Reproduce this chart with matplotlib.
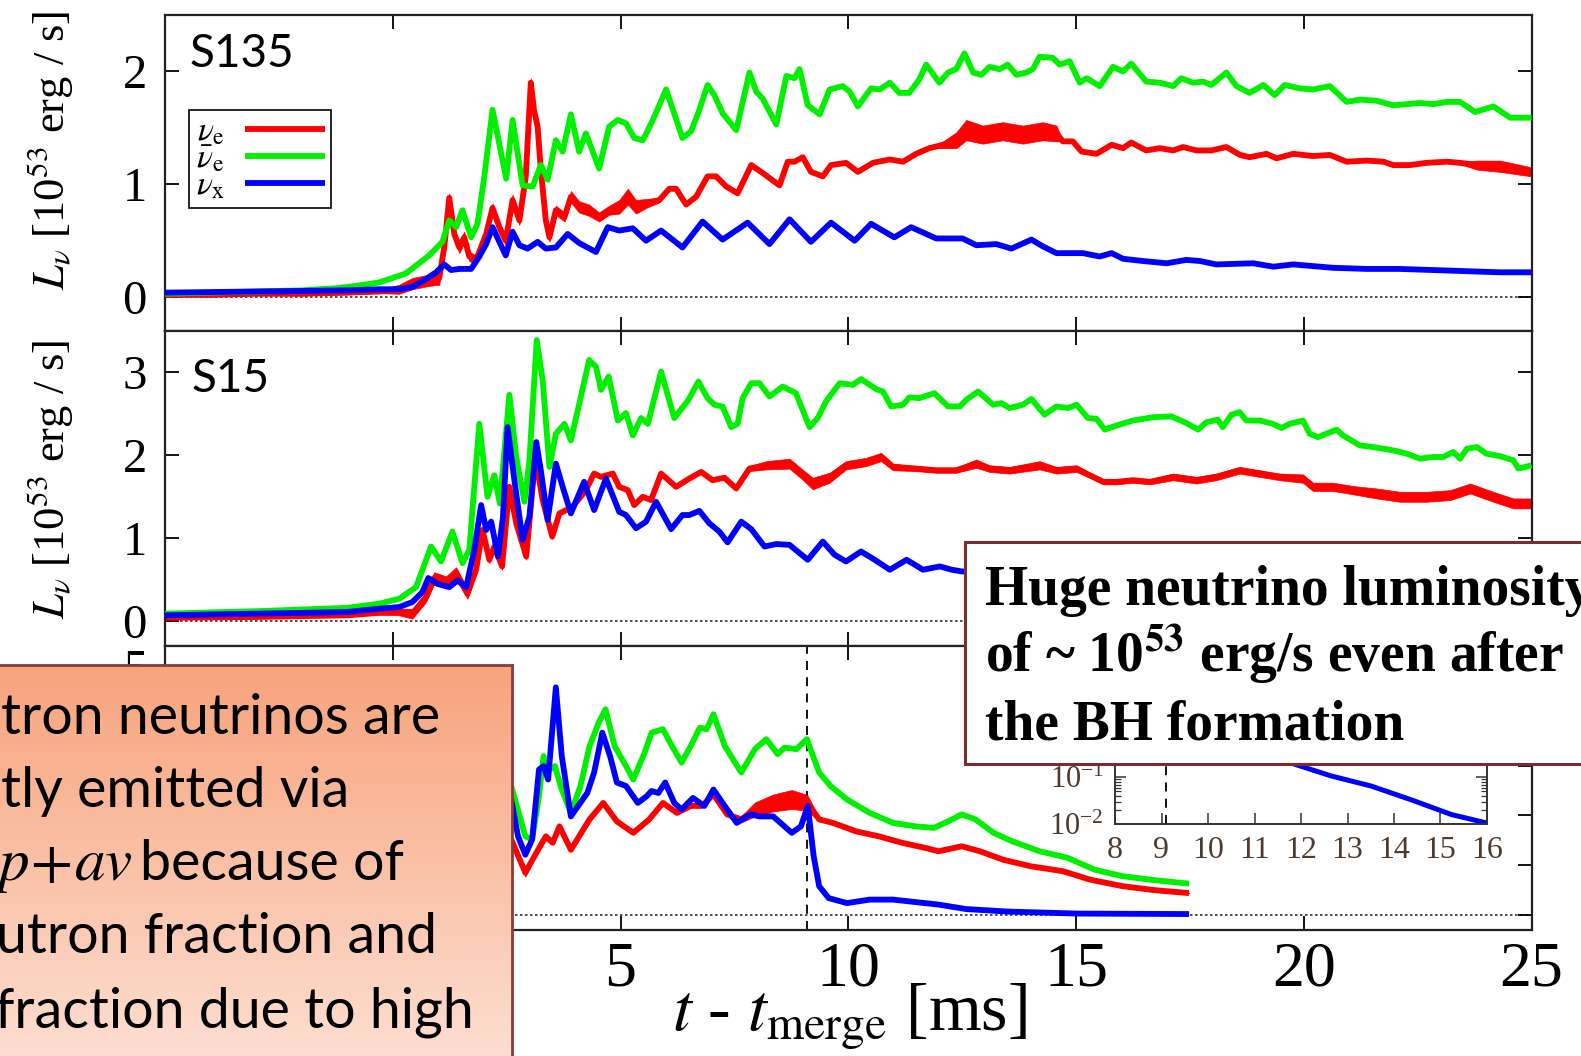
import numpy as np
import matplotlib
matplotlib.use("Agg")
import matplotlib.pyplot as plt
from matplotlib.patches import Rectangle

plt.rcParams['font.family'] = ['Liberation Serif', 'DejaVu Serif']
plt.rcParams['mathtext.fontset'] = 'stix'

# ---------------- S135 (top panel) ----------------
s135_t_nue = [-5, -4, -3, -2, -1, -0.3, 0.14, 0.43, 0.80, 1.02,
              1.13, 1.24, 1.35, 1.46, 1.57, 1.68, 1.83, 2.05, 2.19, 2.34,
              2.48, 2.63, 2.78, 2.92, 3.03, 3.10, 3.18, 3.25, 3.36, 3.44,
              3.58, 3.77, 3.91, 4.09, 4.31, 4.53, 4.75, 4.97, 5.16, 5.34,
              5.56, 5.85, 6.07, 6.22, 6.44, 6.66, 6.91, 7.10, 7.32, 7.57,
              7.87, 8.12, 8.49, 8.67, 8.82, 9.00, 9.18, 9.44, 9.62, 9.95,
              10.21, 10.54, 10.91, 11.20, 11.49, 11.78, 12.08, 12.37, 12.59, 12.95,
              13.39, 13.83, 14.27, 14.57, 14.71, 14.93, 15.12, 15.45, 15.78, 16.03,
              16.21, 16.54, 16.84, 17.13, 17.35, 17.64, 17.97, 18.30, 18.60, 18.81,
              19.18, 19.40, 19.77, 20.20, 20.57, 20.94, 21.38, 21.75, 21.96, 22.33,
              22.69, 23.14, 23.43, 23.80, 24.31, 25.0]
s135_nue = [0.02, 0.02, 0.03, 0.03, 0.04, 0.05, 0.07, 0.12, 0.15, 0.17,
            0.44, 0.88, 0.56, 0.44, 0.53, 0.36, 0.33, 0.56, 0.79, 0.62,
            0.50, 0.86, 0.68, 1.07, 1.90, 1.66, 1.51, 1.13, 0.68, 0.53,
            0.77, 0.71, 0.89, 0.80, 0.77, 0.71, 0.77, 0.80, 0.89, 0.80,
            0.83, 0.86, 0.96, 0.96, 0.82, 0.89, 1.07, 1.07, 0.98, 0.92,
            1.17, 1.10, 0.99, 1.20, 1.20, 1.24, 1.11, 1.07, 1.17, 1.19,
            1.11, 1.19, 1.22, 1.20, 1.27, 1.32, 1.35, 1.39, 1.48, 1.44,
            1.47, 1.44, 1.47, 1.45, 1.38, 1.38, 1.29, 1.27, 1.35, 1.32,
            1.37, 1.30, 1.32, 1.30, 1.33, 1.30, 1.30, 1.33, 1.26, 1.24,
            1.27, 1.23, 1.27, 1.25, 1.26, 1.20, 1.21, 1.20, 1.17, 1.17,
            1.19, 1.20, 1.19, 1.17, 1.16, 1.11]
# half-width of the fast jitter on the nu_e curve
s135_nue_spread = [0.01, 0.015, 0.01, 0.015, 0.015, 0.015, 0.04, 0.05, 0.05, 0.06,
                   0.04, 0.04, 0.05, 0.05, 0.05, 0.04, 0.04, 0.04, 0.04, 0.04,
                   0.04, 0.05, 0.04, 0.04, 0.04, 0.04, 0.04, 0.04, 0.04, 0.04,
                   0.04, 0.04, 0.05, 0.05, 0.05, 0.04, 0.04, 0.06, 0.07, 0.06,
                   0.04, 0.02, 0.01, 0.0, 0.0, 0.0, 0.0, 0.0, 0.0, 0.0,
                   0.0, 0.0, 0.0, 0.0, 0.0, 0.0, 0.0, 0.0, 0.0, 0.0,
                   0.0, 0.0, 0.0, 0.0, 0.0, 0.0, 0.03, 0.07, 0.09, 0.08,
                   0.08, 0.08, 0.08, 0.07, 0.0, 0.0, 0.0, 0.0, 0.0, 0.0,
                   0.0, 0.0, 0.0, 0.0, 0.0, 0.0, 0.0, 0.0, 0.0, 0.0,
                   0.0, 0.0, 0.0, 0.0, 0.0, 0.0, 0.0, 0.0, 0.0, 0.0,
                   0.0, 0.0, 0.01, 0.04, 0.05, 0.04]

s135_t_anue = [-5, -4, -3, -2, -1.2, -0.8, -0.3, 0.29, 0.80, 1.09,
               1.24, 1.39, 1.53, 1.72, 1.86, 2.01, 2.19, 2.49, 2.63, 2.85,
               3.07, 3.25, 3.40, 3.58, 3.73, 3.91, 4.09, 4.24, 4.53, 4.75,
               4.94, 5.12, 5.30, 5.49, 5.71, 6.00, 6.36, 6.55, 6.73, 6.91,
               7.06, 7.24, 7.54, 7.83, 7.98, 8.12, 8.42, 8.64, 8.82, 8.93,
               9.11, 9.37, 9.59, 9.88, 10.03, 10.21, 10.50, 10.69, 10.91, 11.12,
               11.34, 11.56, 11.71, 12.00, 12.19, 12.37, 12.55, 12.74, 12.92, 13.10,
               13.32, 13.50, 13.69, 13.91, 14.05, 14.20, 14.49, 14.64, 14.86, 15.08,
               15.23, 15.52, 15.81, 16.03, 16.21, 16.54, 16.84, 17.13, 17.31, 17.57,
               17.79, 17.97, 18.30, 18.52, 18.81, 19.11, 19.36, 19.58, 19.91, 20.20,
               20.57, 20.94, 21.23, 21.60, 21.96, 22.26, 22.55, 22.84, 23.14, 23.43,
               23.76, 24.16, 24.53, 25.0]
s135_anue = [0.03, 0.04, 0.05, 0.06, 0.08, 0.10, 0.13, 0.21, 0.37, 0.49,
             0.68, 0.62, 0.77, 0.53, 0.65, 1.07, 1.66, 1.05, 1.57, 0.99,
             0.98, 1.17, 1.04, 1.39, 1.29, 1.62, 1.29, 1.45, 1.14, 1.51,
             1.57, 1.54, 1.41, 1.39, 1.57, 1.84, 1.41, 1.47, 1.66, 1.88,
             1.79, 1.63, 1.48, 1.99, 1.82, 1.76, 1.53, 1.96, 1.94, 2.02,
             1.70, 1.62, 1.84, 1.87, 1.82, 1.69, 1.85, 1.84, 1.90, 1.81,
             1.81, 1.93, 2.06, 1.90, 1.99, 2.02, 2.16, 1.99, 1.97, 2.04,
             2.02, 2.06, 1.97, 1.99, 2.02, 2.13, 2.12, 2.06, 2.09, 1.90,
             1.94, 1.87, 2.04, 2.00, 2.07, 1.91, 1.90, 1.87, 1.94, 1.90,
             1.91, 1.88, 1.99, 1.87, 1.81, 1.88, 1.79, 1.88, 1.85, 1.84,
             1.87, 1.73, 1.75, 1.74, 1.70, 1.71, 1.72, 1.71, 1.73, 1.73,
             1.64, 1.69, 1.59, 1.59]

s135_t_nux = [-5, -3, -1, -0.3, 0.14, 0.43, 0.73, 0.95, 1.13, 1.28,
              1.46, 1.72, 1.90, 2.05, 2.19, 2.34, 2.48, 2.63, 2.78, 2.96,
              3.18, 3.36, 3.58, 3.84, 4.09, 4.46, 4.72, 4.97, 5.27, 5.56,
              5.89, 6.36, 6.80, 7.24, 7.79, 8.27, 8.71, 9.18, 9.62, 10.14,
              10.50, 11.01, 11.38, 11.93, 12.51, 12.81, 13.25, 13.58, 14.02, 14.27,
              14.57, 15.15, 15.52, 15.78, 16.03, 16.47, 16.99, 17.42, 17.72, 18.08,
              18.89, 19.33, 19.77, 20.64, 21.38, 22.11, 22.84, 23.58, 24.31, 25.0]
s135_nux = [0.04, 0.05, 0.06, 0.07, 0.07, 0.09, 0.16, 0.22, 0.29, 0.24,
            0.25, 0.25, 0.36, 0.47, 0.62, 0.49, 0.37, 0.58, 0.46, 0.43,
            0.49, 0.43, 0.44, 0.56, 0.48, 0.40, 0.62, 0.59, 0.61, 0.50,
            0.59, 0.44, 0.67, 0.51, 0.66, 0.47, 0.69, 0.49, 0.66, 0.50,
            0.65, 0.53, 0.62, 0.52, 0.52, 0.46, 0.47, 0.43, 0.51, 0.45,
            0.39, 0.39, 0.36, 0.39, 0.34, 0.32, 0.30, 0.33, 0.32, 0.29,
            0.30, 0.27, 0.29, 0.26, 0.25, 0.25, 0.24, 0.23, 0.22, 0.22]

# ---------------- S15 (middle panel) ----------------
s15_t_nue = [-5, -3, -1, -0.3, 0.14, 0.43, 0.73, 0.91, 1.17, 1.39,
             1.64, 1.83, 1.97, 2.12, 2.23, 2.40, 2.56, 2.71, 2.93, 3.13,
             3.29, 3.50, 3.66, 3.95, 4.24, 4.42, 4.57, 4.83, 4.97, 5.16,
             5.30, 5.49, 5.67, 5.89, 6.22, 6.51, 6.77, 7.02, 7.28, 7.54,
             7.83, 8.20, 8.71, 8.97, 9.22, 9.59, 9.95, 10.39, 10.72, 10.98,
             11.49, 11.93, 12.37, 12.81, 13.10, 13.54, 14.20, 14.57, 15.01, 15.30,
             15.60, 15.89, 16.25, 16.62, 17.13, 17.64, 18.08, 18.59, 19.03, 19.47,
             19.98, 20.20, 20.64, 21.08, 21.60, 22.11, 22.69, 23.21, 23.65, 24.16,
             24.60, 25.0]
s15_nue = [0.04, 0.05, 0.07, 0.10, 0.11, 0.09, 0.29, 0.52, 0.47, 0.58,
           0.33, 0.62, 1.10, 0.74, 0.90, 0.66, 1.62, 1.18, 0.78, 1.98,
           1.46, 1.02, 1.30, 1.38, 1.58, 1.78, 1.74, 1.78, 1.62, 1.58,
           1.40, 1.50, 1.46, 1.78, 1.62, 1.72, 1.80, 1.70, 1.73, 1.60,
           1.84, 1.88, 1.90, 1.78, 1.66, 1.73, 1.88, 1.92, 1.98, 1.86,
           1.84, 1.82, 1.82, 1.90, 1.84, 1.82, 1.88, 1.82, 1.84, 1.76,
           1.68, 1.68, 1.70, 1.68, 1.74, 1.70, 1.74, 1.82, 1.78, 1.74,
           1.72, 1.62, 1.62, 1.58, 1.54, 1.50, 1.50, 1.52, 1.60, 1.50,
           1.42, 1.42]
s15_nue_spread = [0.015, 0.015, 0.015, 0.02, 0.04, 0.06, 0.06, 0.07, 0.07, 0.07,
                  0.06, 0.05, 0.04, 0.04, 0.04, 0.04, 0.04, 0.04, 0.04, 0.03,
                  0.03, 0.03, 0.02, 0.02, 0.01, 0.01, 0.01, 0.01, 0.01, 0.01,
                  0.01, 0.01, 0.01, 0.01, 0.01, 0.01, 0.01, 0.01, 0.01, 0.02,
                  0.03, 0.05, 0.06, 0.06, 0.07, 0.06, 0.05, 0.05, 0.05, 0.04,
                  0.03, 0.03, 0.03, 0.05, 0.04, 0.04, 0.05, 0.04, 0.04, 0.03,
                  0.03, 0.03, 0.03, 0.03, 0.04, 0.04, 0.04, 0.04, 0.04, 0.04,
                  0.05, 0.05, 0.05, 0.05, 0.06, 0.06, 0.06, 0.06, 0.06, 0.06,
                  0.06, 0.06]

s15_t_anue = [-5, -3, -1, -0.3, 0.14, 0.51, 0.84, 1.06, 1.31, 1.53,
              1.68, 1.90, 2.08, 2.23, 2.35, 2.56, 2.71, 2.89, 3.00, 3.16,
              3.29, 3.44, 3.58, 3.77, 3.91, 4.13, 4.31, 4.46, 4.57, 4.74,
              4.94, 5.12, 5.27, 5.45, 5.60, 5.89, 6.18, 6.48, 6.71, 6.91,
              7.06, 7.24, 7.43, 7.57, 7.68, 7.87, 8.05, 8.27, 8.56, 8.85,
              9.15, 9.33, 9.51, 9.81, 10.10, 10.28, 10.61, 10.76, 10.94, 11.20,
              11.34, 11.56, 11.89, 12.19, 12.45, 12.59, 12.85, 13.18, 13.36, 13.54,
              13.83, 14.02, 14.31, 14.57, 14.82, 15.01, 15.26, 15.45, 15.63, 15.89,
              16.25, 16.69, 17.09, 17.42, 17.68, 17.86, 18.11, 18.22, 18.41, 18.59,
              18.74, 19.03, 19.32, 19.51, 19.69, 19.98, 20.13, 20.31, 20.49, 20.72,
              20.86, 21.23, 21.52, 21.96, 22.26, 22.55, 22.84, 23.06, 23.28, 23.43,
              23.58, 23.80, 24.01, 24.31, 24.60, 24.71, 25.0]
s15_anue = [0.09, 0.12, 0.16, 0.21, 0.27, 0.41, 0.90, 0.72, 1.08, 0.70,
            0.86, 2.38, 1.50, 1.76, 1.42, 2.73, 1.98, 1.44, 1.94, 3.39,
            2.91, 1.86, 2.26, 2.38, 2.18, 2.71, 3.15, 3.07, 2.79, 2.95,
            2.42, 2.51, 2.24, 2.45, 2.38, 3.01, 2.45, 2.66, 2.89, 2.69,
            2.61, 2.59, 2.34, 2.38, 2.69, 2.87, 2.87, 2.71, 2.83, 2.75,
            2.34, 2.45, 2.65, 2.87, 2.85, 2.92, 2.80, 2.77, 2.59, 2.61,
            2.70, 2.69, 2.75, 2.59, 2.59, 2.67, 2.77, 2.61, 2.63, 2.57,
            2.61, 2.68, 2.49, 2.59, 2.57, 2.61, 2.45, 2.44, 2.31, 2.36,
            2.42, 2.46, 2.47, 2.39, 2.31, 2.40, 2.43, 2.34, 2.49, 2.52,
            2.42, 2.42, 2.38, 2.33, 2.38, 2.42, 2.26, 2.22, 2.26, 2.31,
            2.24, 2.12, 2.10, 2.06, 2.02, 1.96, 1.98, 1.98, 2.04, 1.96,
            2.08, 2.10, 2.02, 1.99, 1.94, 1.84, 1.88]

s15_t_nux = [-5, -3, -1, -0.3, 0.14, 0.43, 0.65, 0.78, 0.98, 1.24,
             1.42, 1.61, 1.79, 1.94, 2.05, 2.16, 2.31, 2.42, 2.52, 2.67,
             2.85, 3.00, 3.15, 3.25, 3.40, 3.58, 3.73, 3.91, 4.20, 4.42,
             4.68, 4.97, 5.12, 5.34, 5.56, 5.78, 6.11, 6.36, 6.51, 6.73,
             6.95, 7.17, 7.35, 7.65, 7.87, 8.16, 8.42, 8.71, 9.11, 9.44,
             9.70, 9.95, 10.28, 10.58, 10.91, 11.28, 11.64, 12.01, 12.27, 12.49,
             13.0]
s15_nux = [0.07, 0.09, 0.11, 0.15, 0.17, 0.23, 0.35, 0.52, 0.45, 0.41,
           0.49, 0.41, 0.86, 1.40, 1.10, 1.20, 0.78, 1.26, 2.34, 1.70,
           0.98, 1.26, 2.16, 1.82, 1.22, 1.90, 1.62, 1.30, 1.68, 1.34,
           1.72, 1.32, 1.28, 1.12, 1.20, 1.44, 1.11, 1.28, 1.28, 1.33,
           1.18, 1.08, 0.95, 1.20, 1.11, 0.90, 0.93, 0.92, 0.74, 0.96,
           0.80, 0.72, 0.84, 0.74, 0.62, 0.74, 0.62, 0.66, 0.62, 0.60,
           0.58]

# ---------------- bottom panel (BH formation) ----------------
bh_t_nue = [2.60, 2.91, 3.11, 3.36, 3.51, 3.66, 3.91, 4.32, 4.62, 4.92,
            5.28, 5.63, 5.93, 6.24, 6.54, 6.79, 7.04, 7.34, 7.65, 7.95,
            8.35, 8.76, 9.10, 9.36, 9.66, 10.17, 10.67, 11.18, 11.68, 11.98,
            12.49, 12.89, 13.40, 14.00, 14.71, 15.31, 16.02, 16.72, 17.48]
bh_nue = [1.52, 0.85, 1.18, 1.58, 1.45, 1.78, 1.31, 1.92, 2.25, 1.88,
          1.65, 1.92, 2.25, 2.05, 2.19, 2.19, 2.42, 2.02, 1.92, 2.12,
          2.25, 2.32, 2.25, 1.92, 1.85, 1.68, 1.58, 1.45, 1.35, 1.28,
          1.38, 1.28, 1.11, 0.98, 0.88, 0.71, 0.58, 0.50, 0.44]
bh_nue_spread = [0.06, 0.08, 0.04, 0.03, 0.03, 0.03, 0.03, 0.02, 0.02, 0.02,
                 0.02, 0.02, 0.02, 0.02, 0.02, 0.02, 0.02, 0.03, 0.06, 0.14,
                 0.17, 0.19, 0.16, 0.04, 0.01, 0.0, 0.0, 0.0, 0.0, 0.0,
                 0.0, 0.0, 0.0, 0.0, 0.0, 0.0, 0.0, 0.0, 0.0]

bh_t_anue = [2.60, 2.91, 3.06, 3.21, 3.31, 3.41, 3.56, 3.71, 3.91, 4.12,
             4.32, 4.52, 4.67, 4.87, 5.12, 5.28, 5.53, 5.68, 5.93, 6.13,
             6.34, 6.54, 6.74, 6.89, 7.04, 7.29, 7.65, 7.95, 8.20, 8.45,
             8.60, 8.86, 9.09, 9.36, 9.61, 9.97, 10.47, 10.98, 11.48, 11.88,
             12.19, 12.49, 12.79, 13.19, 13.60, 14.20, 14.81, 15.41, 16.02, 16.72,
             17.48]
bh_anue = [2.59, 1.58, 1.52, 2.39, 3.19, 2.89, 2.99, 2.52, 2.05, 2.59,
           3.39, 3.86, 4.13, 3.39, 2.99, 2.72, 3.26, 3.66, 3.73, 3.39,
           3.06, 3.39, 3.76, 3.73, 4.03, 3.39, 2.86, 3.33, 3.53, 3.23,
           3.36, 3.33, 3.53, 2.86, 2.59, 2.32, 2.05, 1.85, 1.78, 1.75,
           1.88, 2.02, 1.92, 1.65, 1.48, 1.28, 1.15, 0.91, 0.78, 0.70,
           0.63]

bh_t_nux = [2.60, 2.75, 2.91, 3.06, 3.21, 3.31, 3.41, 3.58, 3.71, 3.91,
            4.07, 4.27, 4.42, 4.60, 4.77, 4.92, 5.12, 5.38, 5.58, 5.68,
            5.83, 5.98, 6.18, 6.34, 6.59, 6.84, 7.04, 7.24, 7.55, 7.85,
            8.05, 8.35, 8.76, 8.96, 9.11, 9.24, 9.36, 9.57, 9.97, 10.47,
            10.98, 11.58, 11.98, 12.59, 13.50, 15.01, 17.48]
bh_nux = [2.32, 1.58, 1.21, 1.52, 2.92, 2.99, 2.72, 4.57, 3.19, 1.98,
          2.19, 2.45, 2.86, 3.66, 3.19, 2.66, 2.59, 2.25, 2.39, 2.49,
          2.45, 2.66, 2.25, 2.12, 2.35, 2.19, 2.52, 2.25, 1.85, 2.02,
          1.98, 1.98, 1.65, 1.78, 2.19, 1.18, 0.58, 0.34, 0.24, 0.31,
          0.31, 0.25, 0.21, 0.12, 0.07, 0.03, 0.02]

# log-scale zoom on nu_x after collapse
inset_t = [8.0, 8.35, 8.76, 8.96, 9.11, 9.24, 9.36, 9.57, 9.97, 10.47,
           10.98, 11.58, 11.87, 12.65, 13.51, 14.37, 15.23, 15.96]
inset_nux = [1.98, 1.98, 1.65, 1.78, 2.19, 1.18, 0.58, 0.34, 0.24, 0.31,
             0.31, 0.25, 0.19, 0.107, 0.065, 0.033, 0.016, 0.0107]

t_bh = 9.1
x_ticks = [-5, 0, 5, 10, 15, 20, 25]
legend_labels = [r'$\nu_{\rm e}$', r'$\bar{\nu}_{\rm e}$', r'$\nu_{\rm x}$']

RED, GREEN, BLUE = '#ff0000', '#00f000', '#0000ff'
LW = 4.2

W, H = 1581, 1056
fig = plt.figure(figsize=(W / 100, H / 100), dpi=100)


def fx(px):
    return px / W


def fy(py):
    return 1 - py / H


L, R = 165, 1531.6
ax_top = fig.add_axes([fx(L), fy(331), (R - L) / W, (331 - 15) / H])
ax_mid = fig.add_axes([fx(L), fy(646), (R - L) / W, (646 - 331) / H])
ax_bot = fig.add_axes([fx(L), fy(930), (R - L) / W, (930 - 646) / H])


def style(ax, ylim, yticks, show_x):
    ax.set_xlim(-5, 25)
    ax.set_ylim(*ylim)
    ax.set_xticks(x_ticks)
    ax.set_yticks(yticks)
    ax.tick_params(direction='in', length=10, width=1.3, top=True, right=True,
                   labelsize=35, pad=13, colors='k')
    ax.tick_params(axis='x', labelbottom=show_x, labelsize=46, pad=8)
    for s in ax.spines.values():
        s.set_linewidth(1.6)
        s.set_color('#222222')
    ax.axhline(0, color='#333333', lw=1.2, ls=(0, (1.5, 1.5)), zorder=1)


def curves(ax, t_e, e, e_spread, t_a, a, t_x, x):
    t_e = np.asarray(t_e)
    e = np.asarray(e)
    sp = np.asarray(e_spread)
    kw = dict(lw=LW, solid_capstyle='butt', solid_joinstyle='round')
    ax.fill_between(t_e, e - sp, e + sp, color=RED, lw=0.5, zorder=2)
    l1, = ax.plot(t_e, e, color=RED, zorder=2, **kw)
    l2, = ax.plot(t_a, a, color=GREEN, zorder=3, **kw)
    l3, = ax.plot(t_x, x, color=BLUE, zorder=4, **kw)
    return l1, l2, l3


style(ax_top, (-0.3, 2.5), [0, 1, 2], False)
style(ax_mid, (-0.3, 3.5), [0, 1, 2, 3], False)
style(ax_bot, (-0.3, 5.4), [0, 1, 2, 3, 4, 5], True)

handles = curves(ax_top, s135_t_nue, s135_nue, s135_nue_spread,
                 s135_t_anue, s135_anue, s135_t_nux, s135_nux)
curves(ax_mid, s15_t_nue, s15_nue, s15_nue_spread,
       s15_t_anue, s15_anue, s15_t_nux, s15_nux)
curves(ax_bot, bh_t_nue, bh_nue, bh_nue_spread,
       bh_t_anue, bh_anue, bh_t_nux, bh_nux)
ax_bot.axvline(t_bh, color='k', lw=1.3, ls=(0, (5, 4)), zorder=1)

leg = ax_top.legend(handles, legend_labels, loc='upper left',
                    bbox_to_anchor=(0.0176, 0.699), borderaxespad=0,
                    fontsize=24, markerfirst=False, handlelength=2.4,
                    handletextpad=0.6, labelspacing=-0.1, borderpad=0.2,
                    fancybox=False, framealpha=1, edgecolor='k')
leg.get_frame().set_linewidth(1.2)

ax_top.text(0.0183, 0.835, 'S135', transform=ax_top.transAxes, fontsize=33,
            family='Lato', va='baseline')
ax_mid.text(0.0195, 0.807, 'S15', transform=ax_mid.transAxes, fontsize=33,
            family='Lato', va='baseline')

ylab = r'$L_\nu$ [10$^{53}$ erg / s]'
ax_top.set_ylabel(ylab, fontsize=32)
ax_top.yaxis.set_label_coords(-0.065, 0.573)
ax_mid.set_ylabel(ylab, fontsize=32)
ax_mid.yaxis.set_label_coords(-0.065, 0.530)
ax_bot.set_xlabel(r'$t$ - $t_{\rm merge}$ [ms]', fontsize=49)
ax_bot.xaxis.set_label_coords(0.501, -0.18)

# inset: nu_x on a log scale
ins = fig.add_axes([fx(1115), fy(824), (1487 - 1115) / W, 140 / H], zorder=2)
ins.set_yscale('log')
ins.set_xlim(8, 16)
ins.set_ylim(0.01, 10)
ins.plot(inset_t, inset_nux, color=BLUE, lw=3.6)
ins.axvline(t_bh, color='k', lw=1.3, ls=(0, (5, 4)))
ins.set_xticks(range(8, 17))
ins.tick_params(which='both', direction='in', top=True, right=True, color='#333333')
ins.tick_params(which='major', length=8, width=1.1)
ins.tick_params(which='minor', length=4, width=0.9)
ins.tick_params(axis='x', labelsize=23, labelcolor='#4d3b2f', pad=9)
ins.tick_params(axis='y', labelsize=22, labelcolor='#4d3b2f', pad=8)
for s in ins.spines.values():
    s.set_linewidth(1.4)
    s.set_color('#333333')

# white call-out on the right
fig.add_artist(Rectangle((fx(965), fy(764)), (1620 - 965) / W, (764 - 542) / H,
                         transform=fig.transFigure, facecolor='white',
                         edgecolor='#7b2c2c', lw=2.2, zorder=5))
bold = dict(fontsize=40, fontweight='bold', va='baseline', zorder=6)
fig.text(fx(985), fy(605), 'Huge neutrino luminosity', **bold)
fig.text(fx(985), fy(672), r'of ~ 10$^{\mathbf{53}}$ erg/s even after', **bold)
fig.text(fx(985), fy(739), 'the BH formation', **bold)

# salmon call-out on the lower left, shaded top to bottom
bx = fig.add_axes([0, 0, fx(512), (1056 - 665) / H], zorder=10)
top_c = np.array([247, 163, 124]) / 255
bot_c = np.array([253, 222, 208]) / 255
frac = np.linspace(0, 1, 256)[:, None, None]
bx.imshow(top_c * (1 - frac) + bot_c * frac, aspect='auto',
          extent=[0, 1, 0, 1], origin='upper')
bx.set_xlim(0, 1)
bx.set_ylim(0, 1)
bx.set_xticks([])
bx.set_yticks([])
bx.spines['left'].set_visible(False)
bx.spines['bottom'].set_visible(False)
for side in ('top', 'right'):
    bx.spines[side].set_color('#8b3a3a')
    bx.spines[side].set_linewidth(2)

note = dict(fontsize=40, family='Lato', va='baseline', zorder=11)
fig.text(fx(1), fy(734), 'tron neutrinos are', **note)
fig.text(fx(1), fy(807), 'tly emitted via', **note)
fig.text(fx(-6), fy(880), r'$p\!+\!av$', fontsize=44, va='baseline', zorder=11)
fig.text(fx(140), fy(880), 'because of', **note)
fig.text(fx(-4), fy(953), 'utron fraction and', **note)
fig.text(fx(-5), fy(1027), 'fraction due to high', **note)

fig.savefig('out.png', dpi=100)
